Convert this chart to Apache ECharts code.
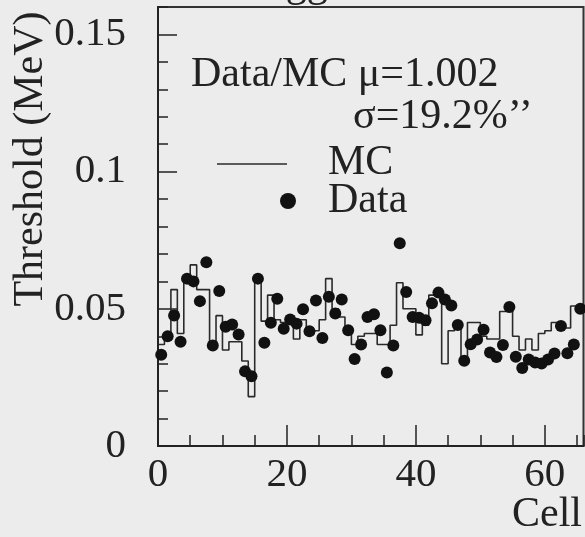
<!DOCTYPE html>
<html>
<head>
<meta charset="utf-8">
<script src="https://cdn.jsdelivr.net/npm/echarts@6/dist/echarts.min.js"></script>
<style>
html,body{margin:0;padding:0;background:#ececec;}
#main{width:585px;height:537px;}
</style>
</head>
<body>
<div id="main"></div>
<script>
// cell index (bin i runs from i to i+1)
var cells = [0,1,2,3,4,5,6,7,8,9,10,11,12,13,14,15,16,17,18,19,20,21,22,23,24,25,26,27,28,29,30,31,32,
  33,34,35,36,37,38,39,40,41,42,43,44,45,46,47,48,49,50,51,52,53,54,55,56,57,58,59,60,61,62,63,64,65];
// MC threshold per cell (MeV), histogram
var mcVals = [0.037,0.039,0.057,0.041,0.062,0.066,0.057,0.057,0.038,0.0475,0.035,0.038,0.038,0.031,0.018,0.062,
  0.0455,0.055,0.046,0.045,0.047,0.039,0.046,0.043,0.042,0.046,0.061,0.050,0.047,0.043,0.037,0.040,0.041,
  0.041,0.037,0.037,0.044,0.0595,0.050,0.050,0.0405,0.044,0.055,0.055,0.030,0.042,0.044,0.032,0.045,0.045,
  0.040,0.039,0.039,0.049,0.049,0.040,0.035,0.039,0.035,0.041,0.042,0.045,0.045,0.043,0.051,0.051];
// measured threshold per cell (MeV), dots
var dataVals = [0.0333,0.040,0.0476,0.038,0.061,0.060,0.0528,0.067,0.0366,0.0565,0.0435,0.0443,0.0406,0.0272,0.0254,0.061,
  0.0376,0.0449,0.0537,0.0427,0.0461,0.0446,0.0498,0.0418,0.053,0.0394,0.0544,0.0483,0.0534,0.0422,0.0317,0.037,0.047,
  0.048,0.0422,0.0268,0.0366,0.0739,0.0561,0.047,0.0467,0.0458,0.052,0.0559,0.0534,0.0512,0.0441,0.0311,0.0371,0.0388,
  0.0424,0.0341,0.0324,0.0368,0.0507,0.0325,0.0284,0.0315,0.0304,0.0301,0.0315,0.0337,0.0437,0.0338,0.037,0.050];
var xMajor = 20, xMinor = 5, xMax = 66;
var yMajor = 0.05, yMinor = 0.01, yMax = 0.16;
var noteLines = ['Data/MC \u03bc=1.002', '\u03c3=19.2%\u2019\u2019'];

var FONT = '"Liberation Serif", "DejaVu Serif", serif';
var INK = '#222';

var mcLine = cells.map(function (c, i) { return [c, mcVals[i]]; });
mcLine.push([cells[cells.length - 1] + 1, mcVals[mcVals.length - 1]]); // close last bin
var dots = cells.map(function (c, i) { return [c + 0.5, dataVals[i]]; });

var chart = echarts.init(document.getElementById('main'), null, {renderer: 'canvas'});

function tickAxis(interval, max, len, labels) {
  return {
    type: 'value', min: 0, max: max, interval: interval,
    axisLine: {show: labels, lineStyle: {color: INK, width: 2}},
    axisTick: {show: true, inside: true, length: len, lineStyle: {color: INK, width: 1.5}},
    axisLabel: {show: labels, showMaxLabel: false, fontFamily: FONT, fontSize: 41, color: INK},
    splitLine: {show: false}
  };
}

var xa = tickAxis(xMajor, xMax, 21, true);
xa.position = 'bottom';
xa.axisLabel.margin = 9;
var xb = tickAxis(xMinor, xMax, 11, false);
xb.position = 'bottom';

var ya = tickAxis(yMajor, yMax, 19, true);
ya.position = 'left';
ya.axisLabel.margin = 32;
ya.name = 'Threshold (MeV)';
ya.nameLocation = 'middle';
ya.nameRotate = 90;
ya.nameGap = 106;
ya.nameMoveOverlap = false;
ya.nameTextStyle = {fontFamily: FONT, fontSize: 42, color: INK, padding: [0, 0, 0, 135]};
var yb = tickAxis(yMinor, yMax, 10, false);
yb.position = 'left';

chart.setOption({
  backgroundColor: '#ececec',
  animation: false,
  grid: {left: 158, right: 1.5, top: 7, bottom: 91, show: true, borderColor: '#333', borderWidth: 2,
    backgroundColor: 'transparent', outerBoundsMode: 'none'},
  xAxis: [xa, xb],
  yAxis: [ya, yb],
  series: [
    {name: 'MC', type: 'line', step: 'end', data: mcLine, symbol: 'none',
      lineStyle: {color: '#2a2a2a', width: 1.6}, z: 2},
    {name: 'Data', type: 'scatter', data: dots, symbolSize: 12,
      itemStyle: {color: '#111', opacity: 1}, z: 3}
  ],
  graphic: [
    {type: 'text', left: 236, top: -36, style: {text: 'Trigger', font: '42px ' + FONT, fill: INK}},
    {type: 'text', left: 191, top: 54, style: {text: noteLines[0], font: '42px ' + FONT, fill: INK}},
    {type: 'text', left: 353, top: 96, style: {text: noteLines[1], font: '42px ' + FONT, fill: INK}},
    {type: 'line', shape: {x1: 217, y1: 164, x2: 287, y2: 164}, style: {stroke: '#2a2a2a', lineWidth: 1.6}},
    {type: 'text', left: 328, top: 142, style: {text: 'MC', font: '42px ' + FONT, fill: INK}},
    {type: 'circle', shape: {cx: 288, cy: 201, r: 8}, style: {fill: '#111'}},
    {type: 'text', left: 328, top: 180, style: {text: 'Data', font: '42px ' + FONT, fill: INK}},
    {type: 'text', right: 3, top: 494, style: {text: 'Cell', font: '42px ' + FONT, fill: INK}}
  ]
});
</script>
</body>
</html>
